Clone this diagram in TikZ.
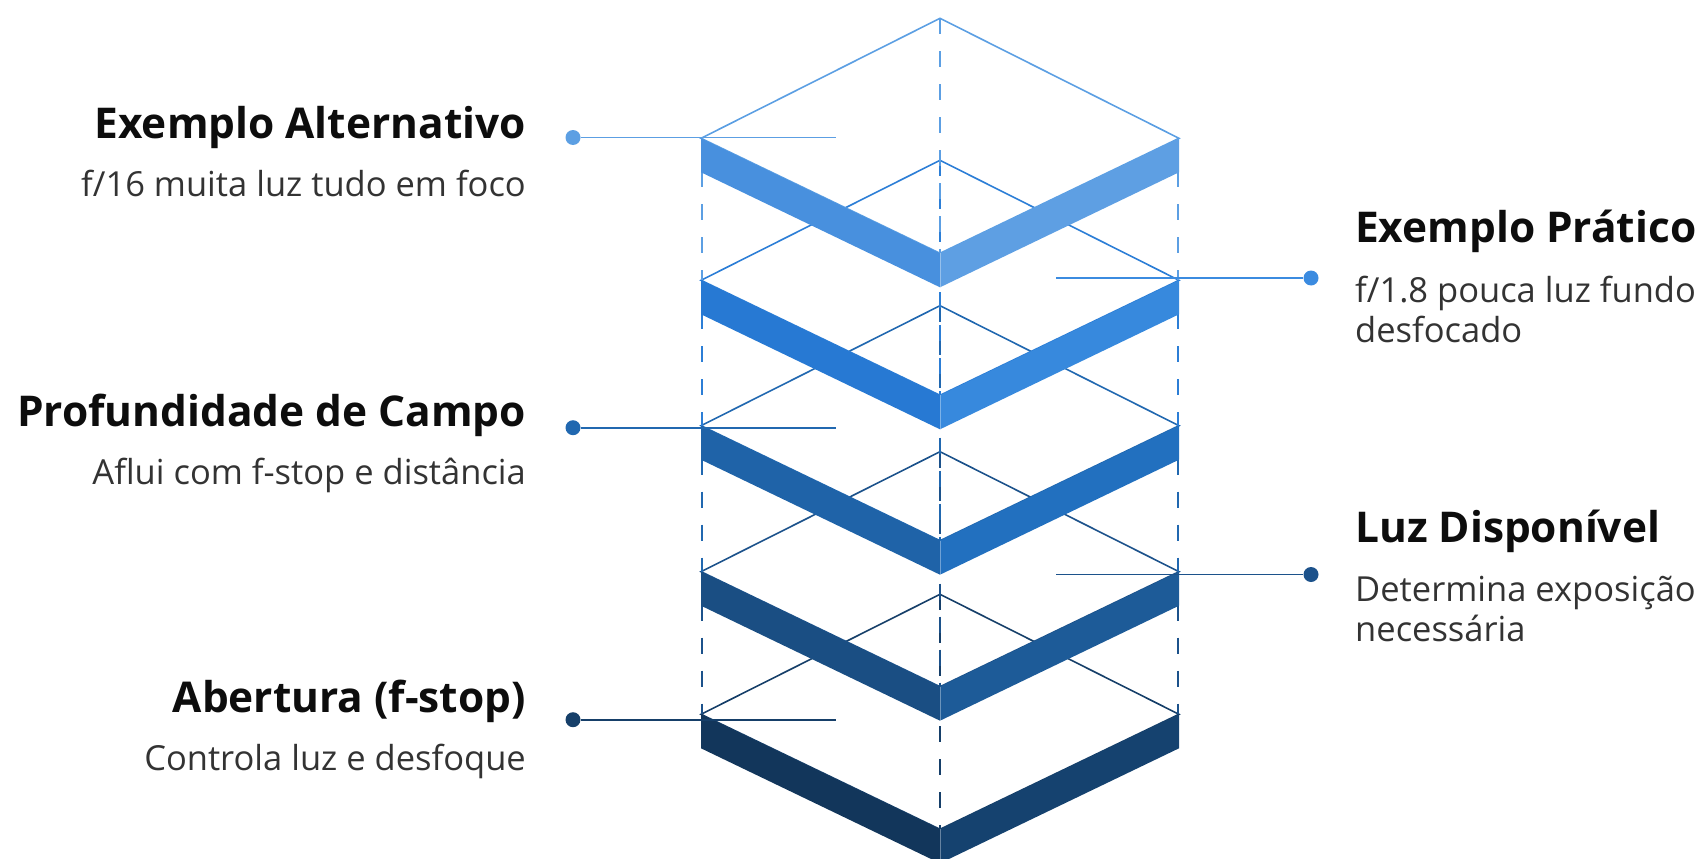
\documentclass[tikz,border=0pt]{standalone}
\usepackage{fontspec}
\setmainfont{Open Sans}
\usetikzlibrary{calc}
\definecolor{c1}{HTML}{5C9FE3}
\definecolor{c1l}{HTML}{4890DE}
\definecolor{c1r}{HTML}{5E9FE3}
\definecolor{c2}{HTML}{2C7ED6}
\definecolor{c2l}{HTML}{2779D3}
\definecolor{c2r}{HTML}{3789DD}
\definecolor{c2d}{HTML}{3B8BE0}
\definecolor{c3}{HTML}{2168B0}
\definecolor{c3l}{HTML}{1F63A8}
\definecolor{c3r}{HTML}{2270BF}
\definecolor{c4}{HTML}{1C528B}
\definecolor{c4l}{HTML}{1A4E83}
\definecolor{c4r}{HTML}{1D5B98}
\definecolor{c5}{HTML}{163F69}
\definecolor{c5l}{HTML}{12365B}
\definecolor{c5r}{HTML}{15426F}
\definecolor{txtgray}{HTML}{333333}
\definecolor{txtblack}{HTML}{0D0D0D}
\begin{document}
\begin{tikzpicture}[x=1pt,y=-1pt,
  title/.style={font=\bfseries\fontsize{42.4}{50}\selectfont, text=txtblack, inner sep=0},
  sub/.style={font=\fontsize{34.5}{40}\selectfont, text=txtgray, inner sep=0},
  guide/.style={line width=1.6, dash pattern=on 16 off 17},
  rim/.style={line width=1.6, line join=miter},
  lead/.style={line width=1.8},
  pin/.style={circle, inner sep=0, minimum size=15}]
\useasboundingbox (0,0) rectangle (1703,859);

\foreach \i/\t/\n/\c/\cl/\cr in {5/594.3/0/c5/c5l/c5r, 4/451.7/594.3/c4/c4l/c4r, 3/305.7/451.7/c3/c3l/c3r, 2/160.3/305.7/c2/c2l/c2r, 1/18.3/160.3/c1/c1l/c1r}{
  \coordinate (T\i) at (940,\t);
  \coordinate (L\i) at (701,\t+120);
  \coordinate (F\i) at (940,\t+235);
  \coordinate (R\i) at (1179,\t+120);
  \draw[guide,\c] (T\i) -- (F\i);
  \ifdim\n pt>0pt
    \coordinate (LN\i) at (702,\n+120);
    \coordinate (RN\i) at (1178,\n+120);
    \draw[guide,\c] ($(L\i)+(1,0)$) -- (LN\i);
    \draw[guide,\c] ($(R\i)+(-1,0)$) -- (RN\i);
  \fi
  \draw[rim,\c] (T\i) -- (L\i) -- (F\i) -- (R\i) -- cycle;
  \fill[\cl] (L\i) -- (F\i) -- ($(F\i)+(0,34)$) -- ($(L\i)+(0,34)$) -- cycle;
  \fill[\cr] (F\i) -- (R\i) -- ($(R\i)+(0,34)$) -- ($(F\i)+(0,34)$) -- cycle;
  \draw[white, opacity=.35, line width=0.8] (F\i) -- ($(F\i)+(0,34)$);
}

% left labels
\node[pin, fill=c1] (p1) at (573,137.5) {};
\coordinate (e1) at (836,137.5);
\draw[lead,c1] (p1) -- (e1);
\node[pin, fill=c3] (p3) at (573,427.7) {};
\coordinate (e3) at (836,427.7);
\draw[lead,c3] (p3) -- (e3);
\node[pin, fill=c5] (p5) at (573,719.7) {};
\coordinate (e5) at (836,719.7);
\draw[lead,c5] (p5) -- (e5);
% right labels
\node[pin, fill=c2d] (p2) at (1311,278) {};
\coordinate (e2) at (1056,278);
\draw[lead,c2d] (e2) -- (p2);
\node[pin, fill=c4] (p4) at (1311,574.5) {};
\coordinate (e4) at (1056,574.5);
\draw[lead,c4] (e4) -- (p4);

\node[title, anchor=base east] (h1) at (526,138) {Exemplo Alternativo};
\node[sub, anchor=base east] (s1) at (526,196) {f/16 muita luz tudo em foco};
\node[title, anchor=base east] (h3) at (526,426) {Profundidade de Campo};
\node[sub, anchor=base east] (s3) at (526,484) {Aflui com f-stop e distância};
\node[title, anchor=base east] (h5) at (526,712) {Abertura (f-stop)};
\node[sub, anchor=base east] (s5) at (526,770) {Controla luz e desfoque};

\node[title, anchor=base west] (h2) at (1355,242) {Exemplo Prático};
\node[sub, anchor=base west, align=left] (s2) at (1355,342) {f/1.8 pouca luz fundo\\desfocado};
\node[title, anchor=base west] (h4) at (1355,542) {Luz Disponível};
\node[sub, anchor=base west, align=left] (s4) at (1355,641) {Determina exposição\\necessária};
\end{tikzpicture}
\end{document}
